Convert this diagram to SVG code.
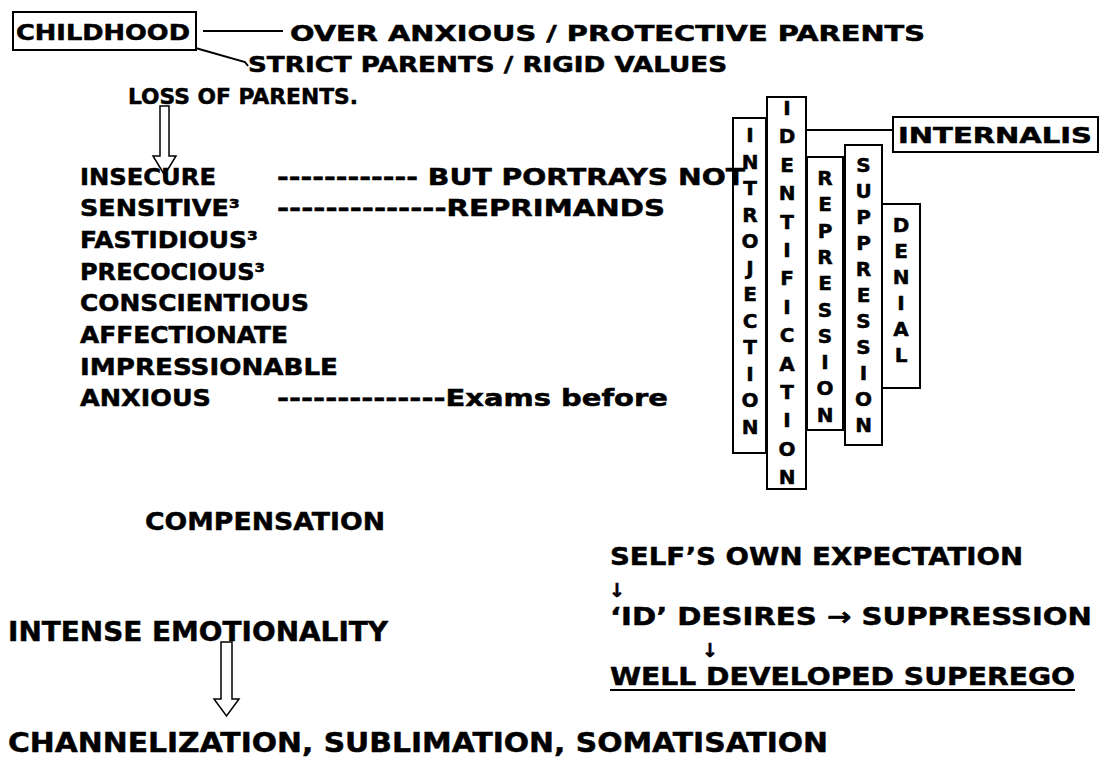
<svg xmlns="http://www.w3.org/2000/svg" width="1108" height="770" viewBox="0 0 1108 770">
<style>
text{font-family:"DejaVu Sans","Verdana",sans-serif;font-weight:bold;fill:#000;stroke:#000;stroke-width:0.5}
.t21{font-size:21px}
.t22{font-size:22px}
.t23{font-size:23px}
.t25{font-size:25px}
.t27{font-size:27px}
.col text{font-size:20px;text-anchor:middle}
.arr{font-size:19px;stroke-width:0.6}
.box{fill:#fff;stroke:#000;stroke-width:2}
.ln{stroke:#000;stroke-width:2;fill:none}
.harrow{fill:#fff;stroke:#000;stroke-width:1.5}
</style>
<rect width="1108" height="770" fill="#fff"/>

<g id="connectors">
<line class="ln" x1="203" y1="31" x2="283" y2="31"/>
<polyline class="ln" points="192,47 245,62 248,66"/>
<path class="harrow" d="M160,106 L169,106 L169,156 L176,156 L164.5,175 L153,156 L160,156 Z"/>
<line class="ln" x1="806" y1="130" x2="893" y2="130"/>
<path class="harrow" d="M221,642 L232,642 L232,699 L239,699 L226.5,716 L214,699 L221,699 Z"/>
</g>

<g id="childhood">
<rect class="box" x="13" y="12" width="183" height="38" fill="none"/>
<text class="t21" x="16" y="40" textLength="174" lengthAdjust="spacingAndGlyphs">CHILDHOOD</text>
</g>
<g id="over-anxious"><text class="t21" x="290" y="41" textLength="635" lengthAdjust="spacingAndGlyphs">OVER ANXIOUS / PROTECTIVE PARENTS</text></g>
<g id="strict"><text class="t21" x="248" y="72" textLength="479" lengthAdjust="spacingAndGlyphs">STRICT PARENTS / RIGID VALUES</text></g>
<g id="loss"><text class="t22" x="128" y="104" textLength="230" lengthAdjust="spacingAndGlyphs">LOSS OF PARENTS.</text></g>

<g id="traits">
<text class="t23" x="80" y="185" textLength="136" lengthAdjust="spacingAndGlyphs">INSECURE</text>
<text class="t23" x="80" y="216" textLength="160" lengthAdjust="spacingAndGlyphs">SENSITIVE³</text>
<text class="t23" x="80" y="248" textLength="178" lengthAdjust="spacingAndGlyphs">FASTIDIOUS³</text>
<text class="t23" x="80" y="280" textLength="185" lengthAdjust="spacingAndGlyphs">PRECOCIOUS³</text>
<text class="t23" x="80" y="311" textLength="229" lengthAdjust="spacingAndGlyphs">CONSCIENTIOUS</text>
<text class="t23" x="80" y="343" textLength="208" lengthAdjust="spacingAndGlyphs">AFFECTIONATE</text>
<text class="t23" x="80" y="375" textLength="258" lengthAdjust="spacingAndGlyphs">IMPRESSIONABLE</text>
<text class="t23" x="80" y="406" textLength="131" lengthAdjust="spacingAndGlyphs">ANXIOUS</text>
</g>

<g id="col-introjection" class="col">
<rect class="box" x="733" y="118" width="33" height="335"/>
<text x="750" y="142">I</text><text x="750" y="168.5">N</text><text x="750" y="195">T</text><text x="750" y="221.5">R</text><text x="750" y="248">O</text><text x="750" y="274.5">J</text><text x="750" y="301">E</text><text x="750" y="327.5">C</text><text x="750" y="354">T</text><text x="750" y="380.5">I</text><text x="750" y="407">O</text><text x="750" y="433.5">N</text>
</g>
<g id="col-identification" class="col">
<rect class="box" x="767" y="97" width="39" height="392"/>
<text x="787" y="115">I</text><text x="787" y="143.4">D</text><text x="787" y="171.8">E</text><text x="787" y="200.2">N</text><text x="787" y="228.6">T</text><text x="787" y="257">I</text><text x="787" y="285.4">F</text><text x="787" y="313.8">I</text><text x="787" y="342.2">C</text><text x="787" y="370.6">A</text><text x="787" y="399">T</text><text x="787" y="427.4">I</text><text x="787" y="455.8">O</text><text x="787" y="484">N</text>
</g>
<g id="col-repression" class="col">
<rect class="box" x="807" y="157" width="36" height="273"/>
<text x="825" y="185">R</text><text x="825" y="211.3">E</text><text x="825" y="237.6">P</text><text x="825" y="263.9">R</text><text x="825" y="290.2">E</text><text x="825" y="316.5">S</text><text x="825" y="342.8">S</text><text x="825" y="369.1">I</text><text x="825" y="395.4">O</text><text x="825" y="421.7">N</text>
</g>
<g id="col-suppression" class="col">
<rect class="box" x="845" y="145" width="37" height="300"/>
<text x="863.5" y="172">S</text><text x="863.5" y="198">U</text><text x="863.5" y="224">P</text><text x="863.5" y="250">P</text><text x="863.5" y="276">R</text><text x="863.5" y="302">E</text><text x="863.5" y="328">S</text><text x="863.5" y="354">S</text><text x="863.5" y="380">I</text><text x="863.5" y="406">O</text><text x="863.5" y="432">N</text>
</g>
<g id="col-denial" class="col">
<rect class="box" x="882" y="204" width="38" height="184"/>
<text x="901" y="232">D</text><text x="901" y="258">E</text><text x="901" y="284">N</text><text x="901" y="310">I</text><text x="901" y="336">A</text><text x="901" y="362">L</text>
</g>
<g id="internalis">
<rect class="box" x="893" y="117" width="205" height="35"/>
<text class="t22" x="898" y="143" textLength="194" lengthAdjust="spacingAndGlyphs">INTERNALIS</text>
</g>

<g id="portrays"><text class="t23" x="277" y="185" textLength="468" lengthAdjust="spacingAndGlyphs">------------ BUT PORTRAYS NOT</text></g>
<g id="reprimands"><text class="t23" x="277" y="216" textLength="388" lengthAdjust="spacingAndGlyphs">--------------REPRIMANDS</text></g>
<g id="exams"><text class="t23" x="277" y="406" textLength="391" lengthAdjust="spacingAndGlyphs">--------------Exams before</text></g>

<g id="compensation"><text class="t25" x="145" y="530" textLength="240" lengthAdjust="spacingAndGlyphs">COMPENSATION</text></g>
<g id="emotionality"><text class="t27" x="8" y="641" textLength="380" lengthAdjust="spacingAndGlyphs">INTENSE EMOTIONALITY</text></g>
<g id="channelization"><text class="t27" x="8" y="752" textLength="820" lengthAdjust="spacingAndGlyphs">CHANNELIZATION, SUBLIMATION, SOMATISATION</text></g>

<g id="self-expectation"><text class="t25" x="610" y="565" textLength="413" lengthAdjust="spacingAndGlyphs">SELF’S OWN EXPECTATION</text></g>
<g id="arrow1"><text class="arr" x="609" y="597">↓</text></g>
<g id="id-desires"><text class="t25" x="610" y="625" textLength="482" lengthAdjust="spacingAndGlyphs">‘ID’ DESIRES → SUPPRESSION</text></g>
<g id="arrow2"><text class="arr" x="702" y="657">↓</text></g>
<g id="superego">
<text class="t25" x="610" y="685" textLength="465" lengthAdjust="spacingAndGlyphs">WELL DEVELOPED SUPEREGO</text>
<line x1="610" y1="690" x2="1075" y2="690" stroke="#000" stroke-width="2"/>
</g>
</svg>
